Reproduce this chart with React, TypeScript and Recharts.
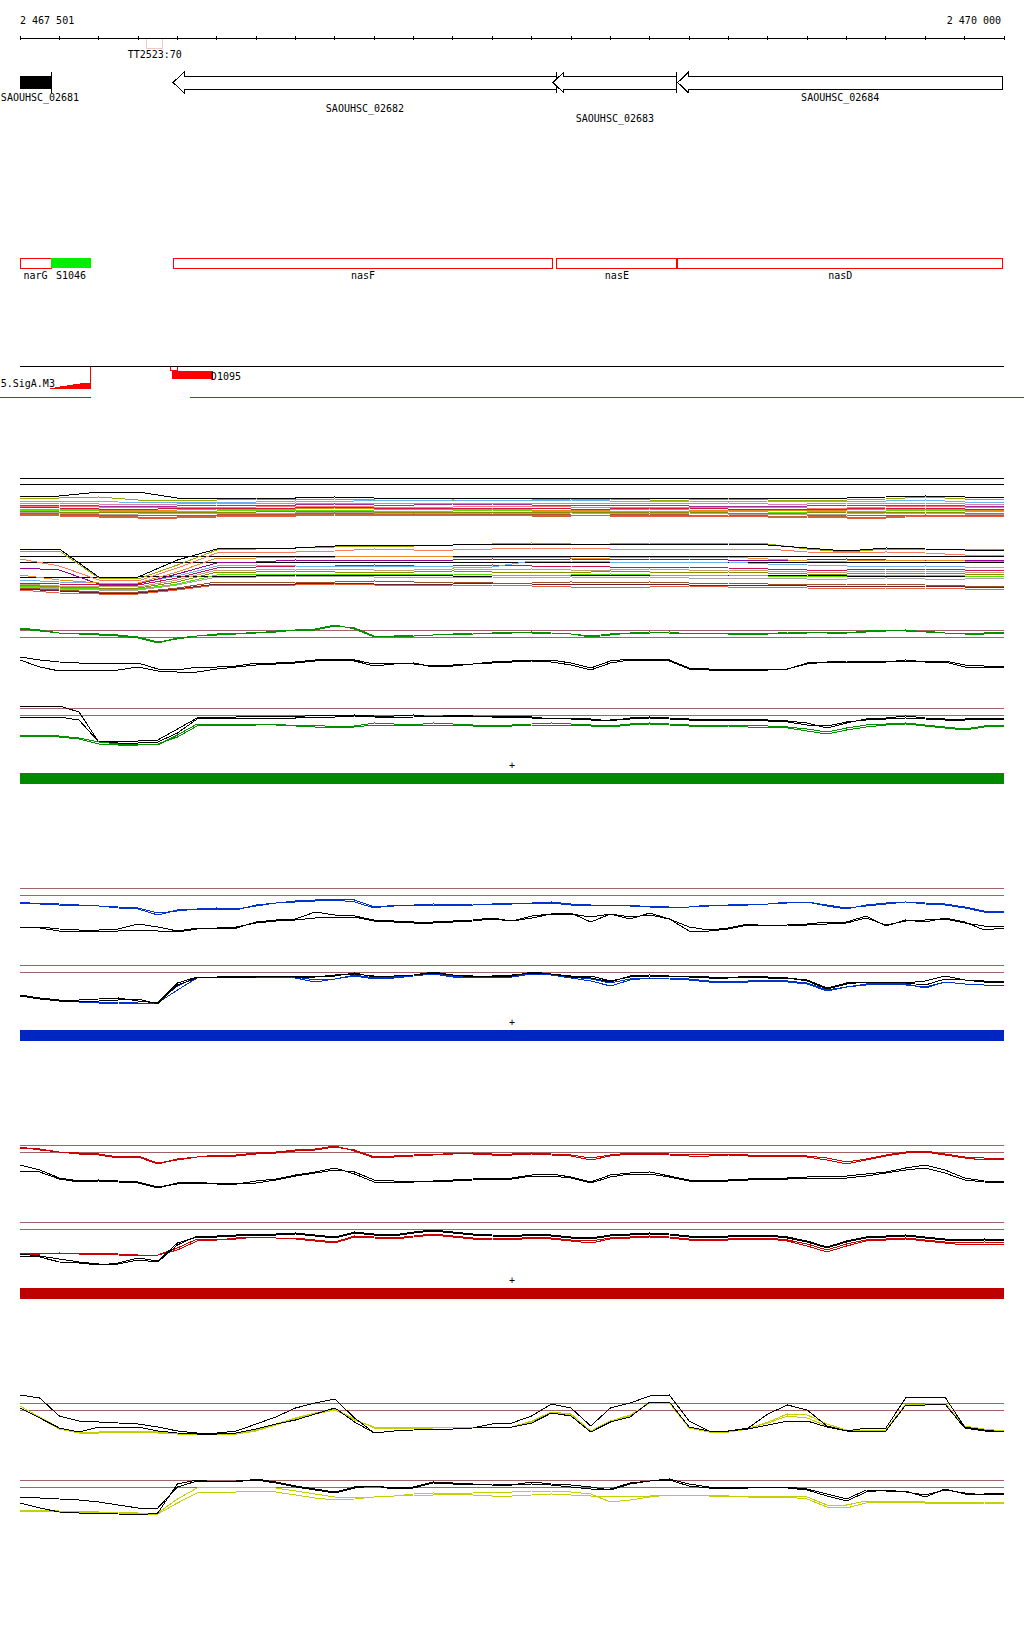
import React from "react"
import {
  LineChart,
  Line,
  XAxis,
  YAxis,
  ReferenceLine,
  ReferenceArea
} from "recharts"

// genome window: 2 467 501 .. 2 470 000 (offsets in bp from VIEW_START)
const VIEW_START = 2467500
const VIEW_SPAN = 2500

const POS_FINE = [
  0, 50, 100, 150, 200, 250, 300, 350, 400, 450, 500, 550, 600, 650, 700, 750, 800,
  850, 900, 950, 1000, 1050, 1100, 1150, 1200, 1250, 1300, 1350, 1400, 1450, 1500,
  1550, 1600, 1650, 1700, 1750, 1800, 1850, 1900, 1950, 2000, 2050, 2100, 2150,
  2200, 2250, 2300, 2350, 2400, 2450, 2500
]
const POS_COARSE = [
  0, 100, 200, 300, 400, 500, 600, 700, 800, 900, 1000, 1100, 1200, 1300, 1400,
  1500, 1600, 1700, 1800, 1900, 2000, 2100, 2200, 2300, 2400, 2500
]
const RULER_TICKS = POS_COARSE

// annotation features (bp offsets)
const GENES = [
  { name: "SAOUHSC_02681", start: 0, end: 79, partial: true },
  { name: "SAOUHSC_02682", start: 389, end: 1364, partial: false },
  { name: "SAOUHSC_02683", start: 1354, end: 1669, partial: false },
  { name: "SAOUHSC_02684", start: 1671, end: 2497, partial: false }
]
const GENE_LABEL_ROW: Record<string, number> = {
  SAOUHSC_02681: 0,
  SAOUHSC_02682: 1,
  SAOUHSC_02683: 2,
  SAOUHSC_02684: 0
}
const TERMINATORS = [{ name: "TT2523:70", start: 322, end: 363 }]
const OPERON_GENES = [
  { name: "narG", start: 0, end: 79, srna: false },
  { name: "S1046", start: 79, end: 180, srna: true },
  { name: "nasF", start: 389, end: 1354, srna: false },
  { name: "nasE", start: 1364, end: 1669, srna: false },
  { name: "nasD", start: 1671, end: 2497, srna: false }
]
const PROMOTER = { name: "5.SigA.M3", start: 76, end: 180 }
const PROMOTER_PROFILE = [
  { from: 76, to: 89, score: 1 },
  { from: 89, to: 102, score: 2 },
  { from: 102, to: 119, score: 3 },
  { from: 119, to: 135, score: 4 },
  { from: 135, to: 152, score: 5 },
  { from: 152, to: 180, score: 6 }
]
const SITE_MARK = { start: 382, end: 399 }
const SITE = { name: "D1095", start: 387, end: 490 }
const TRANSCRIPTS = [
  { from: -51, to: 180 },
  { from: 432, to: 2551 }
]

// ---- condition bundles (coarse grid) ----
const B1_BLACK = [-18,-18,-14,-14,-20,-20,-20,-20,-19,-20,-20,-20,-20,-20,-20,-20,-20,-20,-20,-20,-20,-20,-19,-18,-19,-20]
const B1_OLIVE = [-20,-20,-19,-22,-22,-22,-21,-22,-21,-22,-22,-22,-22,-22,-21,-21,-22,-22,-21,-22,-22,-22,-21,-19,-21,-22]
const B1_LIGHTBLUE = [-23,-23,-23,-25,-24,-24,-24,-23,-24,-22,-23,-22,-23,-22,-22,-23,-23,-23,-24,-23,-23,-23,-23,-22,-24,-24]
const B1_PINK = [-25,-25,-26,-27,-26,-25,-26,-25,-26,-25,-25,-26,-25,-25,-26,-25,-25,-26,-25,-26,-26,-25,-25,-25,-26,-26]
const B1_PURPLE = [-27,-27,-28,-29,-28,-27,-27,-27,-26,-27,-27,-26,-26,-27,-28,-27,-27,-28,-28,-28,-28,-27,-27,-27,-28,-28]
const B1_SALMON = [-28,-28,-29,-30,-29,-29,-29,-28,-28,-29,-29,-29,-28,-28,-29,-29,-29,-29,-29,-29,-30,-30,-29,-28,-29,-30]
const B1_CRIMSON = [-29,-30,-31,-32,-30,-30,-30,-30,-29,-30,-30,-30,-30,-30,-31,-31,-30,-30,-31,-31,-31,-31,-30,-30,-31,-31]
const B1_ORANGE = [-31,-31,-32,-33,-32,-31,-31,-31,-30,-31,-31,-32,-31,-32,-32,-32,-31,-32,-32,-32,-32,-32,-31,-31,-32,-32]
const B1_GREEN = [-32,-32,-33,-34,-33,-33,-32,-32,-32,-33,-33,-33,-32,-33,-33,-33,-33,-33,-33,-34,-34,-33,-33,-32,-33,-33]
const B1_DARKOLIVE = [-33,-34,-34,-35,-34,-34,-34,-33,-33,-34,-34,-34,-34,-34,-34,-35,-34,-34,-35,-35,-35,-34,-34,-34,-35,-35]
const B1_GREY = [-34,-35,-36,-36,-35,-35,-35,-35,-34,-35,-35,-35,-35,-36,-35,-36,-35,-35,-36,-36,-36,-36,-35,-35,-36,-36]
const B1_BROWN = [-35,-36,-37,-38,-37,-37,-36,-36,-35,-36,-36,-36,-36,-36,-37,-37,-36,-37,-37,-38,-38,-37,-37,-37,-37,-38]
const B1_SIENNA = [-36,-37,-38,-39,-39,-38,-37,-37,-36,-37,-36,-37,-37,-38,-38,-37,-37,-37,-38,-38,-38,-39,-39,-37,-38,-38]
const B1_TOMATO = [-37,-38,-39,-40,-40,-39,-38,-38,-37,-37,-37,-37,-37,-37,-37,-38,-38,-38,-38,-39,-39,-40,-40,-38,-38,-39]

const B2_BLACK = [7,7,-21,-21,-4,7,8,8,10,11,11,11,12,12,11,12,12,12,12,11,8,5,8,7,6,6]
const B2_BLACK_LOW = [-21,-21,-21,-21,-20,-20,-20,-19,-19,-19,-19,-20,-20,-19,-19,-19,-19,-19,-19,-19,-19,-20,-20,-20,-20,-20]
const B2_OLIVE = [5,5,-22,-23,-9,6,7,8,9,10,10,11,12,13,12,12,13,13,13,12,7,4,7,7,6,7]
const B2_SALMON = [-3,-10,-24,-25,-12,3,4,4,5,7,6,6,7,8,8,7,7,7,7,7,4,3,4,3,1,0]
const B2_ORANGE = [-19,-24,-27,-27,-16,-2,-2,-1,-1,0,0,-1,-1,-1,-2,-2,-1,-1,-1,-3,-5,-5,-4,-4,-5,-6]
const B2_PURPLE = [-12,-14,-28,-28,-18,-7,-6,-4,-5,-4,-4,-4,-3,-4,-3,-4,-3,-3,-4,-4,-4,-3,-4,-5,-4,-4]
const B2_LIGHTBLUE = [-24,-26,-27,-27,-20,-10,-9,-10,-11,-10,-10,-11,-11,-5,-5,-6,-6,-6,-6,-8,-9,-10,-11,-10,-11,-11]
const B2_CRIMSON = [-27,-28,-29,-29,-22,-12,-11,-10,-10,-9,-10,-10,-9,-10,-10,-11,-11,-11,-12,-13,-14,-14,-13,-13,-14,-14]
const B2_TAN = [-28,-30,-30,-31,-24,-14,-14,-13,-13,-14,-14,-13,-14,-13,-14,-14,-13,-14,-14,-15,-16,-16,-15,-15,-16,-16]
const B2_DARKOLIVE = [-29,-31,-32,-32,-26,-16,-16,-15,-16,-16,-16,-15,-16,-16,-17,-15,-16,-17,-16,-17,-18,-18,-17,-17,-18,-18]
const B2_GREEN = [-30,-32,-33,-33,-28,-19,-18,-18,-19,-18,-18,-18,-19,-19,-19,-18,-19,-19,-19,-20,-20,-20,-19,-19,-20,-20]
const B2_GREY = [-31,-33,-34,-34,-29,-21,-21,-20,-20,-21,-21,-21,-21,-22,-21,-22,-21,-22,-22,-22,-23,-23,-22,-23,-23,-22]
const B2_BROWN = [-32,-34,-36,-36,-32,-26,-27,-26,-26,-25,-26,-26,-27,-27,-26,-27,-26,-27,-27,-28,-29,-28,-28,-29,-30,-30]
const B2_MAROON = [-33,-35,-37,-37,-33,-28,-28,-28,-27,-28,-28,-28,-27,-28,-29,-28,-28,-29,-29,-29,-30,-30,-30,-30,-31,-31]
const B2_TOMATO = [-34,-37,-38,-38,-34,-29,-30,-29,-28,-29,-30,-29,-29,-30,-31,-31,-31,-30,-31,-31,-32,-33,-32,-32,-33,-33]

// ---- green condition ----
const GT_GREEN_A = [2,0,-3,-3,-4,-5,-7,-12,-9,-6,-5,-4,-2,-2,0,0,4,2,-6,-6,-6,-5,-4,-4,-3,-3,-2,-3,-4,-6,-4,-3,-2,-3,-3,-3,-4,-4,-3,-3,-3,-2,-2,-2,-1,0,-2,-3,-3,-3,-2]
const GT_GREEN_B = [1,-1,-3,-4,-5,-6,-8,-13,-8,-6,-4,-3,-3,-1,0,1,5,1,-7,-6,-5,-5,-4,-3,-3,-2,-3,-3,-4,-7,-5,-3,-3,-2,-4,-3,-3,-4,-4,-2,-2,-3,-3,-1,0,-1,-1,-3,-4,-4,-3]
const GT_BLACK_A = [-27,-30,-32,-33,-33,-33,-33,-39,-40,-37,-37,-36,-33,-33,-32,-30,-29,-30,-34,-33,-34,-36,-35,-34,-32,-31,-30,-30,-33,-38,-31,-29,-29,-30,-38,-39,-39,-39,-39,-39,-33,-32,-31,-31,-31,-31,-31,-31,-35,-36,-36]
const GT_BLACK_B = [-30,-37,-41,-40,-40,-40,-37,-41,-42,-42,-39,-37,-35,-34,-33,-31,-30,-31,-36,-34,-33,-37,-36,-34,-33,-32,-31,-32,-35,-40,-33,-30,-30,-31,-39,-40,-40,-40,-40,-39,-34,-32,-32,-32,-32,-30,-32,-32,-37,-38,-37]
const GL_BLACK_A = [2,2,2,-4,-34,-35,-35,-34,-25,-11,-10,-10,-10,-10,-10,-9,-9,-8,-9,-10,-9,-8,-8,-8,-9,-9,-10,-10,-11,-12,-12,-11,-10,-11,-12,-12,-12,-12,-13,-14,-17,-18,-14,-12,-11,-10,-11,-12,-12,-11,-11]
const GL_BLACK_B = [-9,-9,-9,-12,-34,-33,-33,-32,-21,-10,-9,-9,-8,-8,-9,-7,-8,-7,-8,-8,-7,-9,-7,-8,-8,-8,-9,-11,-10,-11,-13,-10,-9,-10,-11,-12,-11,-11,-12,-13,-15,-20,-15,-11,-10,-8,-10,-11,-11,-10,-10]
const GL_GREEN_A = [-27,-27,-28,-30,-34,-36,-36,-37,-27,-16,-16,-16,-16,-17,-17,-17,-19,-18,-15,-16,-17,-15,-16,-17,-17,-17,-16,-15,-16,-17,-18,-16,-15,-16,-17,-17,-17,-17,-18,-19,-21,-24,-20,-17,-16,-15,-17,-19,-21,-18,-17]
const GL_GREEN_B = [-28,-28,-29,-31,-36,-37,-37,-36,-29,-18,-17,-17,-17,-16,-18,-19,-20,-19,-17,-17,-18,-17,-17,-18,-18,-18,-17,-17,-17,-18,-19,-17,-16,-17,-18,-18,-18,-19,-19,-20,-23,-26,-22,-19,-17,-16,-18,-20,-22,-19,-18]

// ---- blue condition ----
const BT_BLUE_A = [-15,-15,-16,-17,-18,-19,-20,-25,-23,-21,-21,-22,-17,-15,-13,-12,-11,-12,-19,-18,-17,-17,-17,-16,-16,-16,-15,-14,-16,-17,-17,-18,-18,-19,-19,-18,-17,-17,-16,-15,-14,-17,-20,-18,-16,-14,-15,-16,-19,-23,-23]
const BT_BLUE_B = [-14,-16,-17,-17,-18,-20,-21,-27,-22,-21,-20,-21,-18,-15,-14,-13,-12,-14,-20,-17,-17,-16,-17,-17,-16,-15,-15,-15,-17,-18,-17,-17,-19,-20,-19,-17,-17,-16,-16,-14,-14,-18,-21,-17,-15,-14,-16,-17,-20,-24,-24]
const BT_BLACK_A = [-39,-39,-41,-42,-42,-41,-36,-39,-43,-40,-40,-40,-34,-32,-31,-24,-27,-28,-32,-33,-34,-34,-33,-32,-30,-33,-28,-26,-25,-34,-26,-31,-25,-31,-39,-42,-40,-36,-38,-37,-36,-34,-34,-28,-38,-32,-34,-30,-34,-42,-40]
const BT_BLACK_B = [-39,-40,-43,-43,-43,-43,-42,-43,-44,-41,-40,-39,-35,-33,-32,-30,-29,-29,-33,-34,-35,-35,-34,-33,-31,-33,-30,-26,-26,-29,-26,-29,-27,-31,-43,-43,-41,-37,-38,-37,-37,-36,-35,-30,-37,-33,-32,-31,-35,-38,-38]
const BL_BLUE_A = [-30,-34,-35,-36,-38,-38,-39,-37,-21,-12,-12,-12,-12,-12,-13,-17,-14,-10,-13,-12,-10,-8,-11,-12,-12,-12,-8,-10,-13,-16,-21,-15,-13,-13,-14,-16,-17,-16,-15,-16,-18,-25,-22,-19,-18,-19,-23,-17,-19,-20,-20]
const BL_BLUE_B = [-30,-33,-36,-37,-37,-37,-38,-38,-25,-13,-12,-12,-11,-11,-12,-15,-14,-11,-14,-13,-11,-9,-12,-12,-12,-12,-9,-10,-12,-14,-18,-14,-13,-14,-15,-17,-18,-17,-16,-17,-19,-26,-22,-20,-19,-20,-22,-17,-19,-20,-20]
const BL_BLACK_A = [-30,-33,-35,-35,-34,-33,-36,-38,-18,-12,-12,-11,-11,-11,-11,-11,-11,-8,-12,-11,-10,-7,-10,-11,-11,-11,-7,-9,-12,-13,-17,-11,-10,-11,-12,-13,-13,-12,-13,-13,-15,-23,-18,-17,-17,-18,-20,-14,-15,-17,-17]
const BL_BLACK_B = [-31,-34,-36,-36,-36,-35,-34,-39,-20,-13,-12,-12,-12,-11,-12,-12,-10,-9,-11,-11,-10,-8,-10,-12,-11,-10,-8,-9,-11,-11,-16,-12,-11,-11,-11,-12,-13,-11,-12,-13,-16,-24,-19,-17,-17,-18,-16,-11,-15,-16,-16]

// ---- red condition ----
const RT_RED_A = [-2,-5,-7,-8,-9,-12,-11,-18,-15,-12,-11,-11,-9,-8,-6,-5,-2,-5,-12,-11,-10,-9,-9,-8,-9,-9,-8,-9,-10,-13,-10,-8,-8,-9,-10,-9,-9,-10,-10,-10,-11,-13,-17,-14,-10,-7,-6,-9,-12,-13,-13]
const RT_RED_B = [-3,-4,-7,-9,-10,-13,-12,-19,-14,-12,-10,-10,-8,-7,-5,-4,-1,-6,-13,-12,-11,-10,-8,-9,-10,-10,-9,-10,-11,-15,-11,-9,-9,-10,-11,-11,-10,-11,-11,-11,-12,-15,-19,-15,-11,-8,-7,-10,-13,-15,-14]
const RT_BLACK_A = [-20,-25,-33,-36,-35,-36,-37,-42,-39,-38,-38,-39,-38,-35,-31,-28,-25,-27,-35,-36,-36,-36,-35,-34,-33,-33,-30,-29,-32,-37,-30,-28,-27,-31,-35,-35,-35,-34,-33,-33,-32,-31,-31,-29,-27,-23,-20,-25,-33,-36,-37]
const RT_BLACK_B = [-26,-27,-34,-37,-36,-37,-38,-43,-38,-37,-39,-39,-36,-34,-30,-27,-23,-29,-37,-37,-37,-36,-36,-35,-34,-34,-31,-31,-33,-38,-32,-29,-29,-32,-36,-36,-36,-35,-34,-34,-33,-33,-33,-31,-28,-25,-23,-28,-35,-37,-38]
const RL_RED_A = [-31,-31,-31,-31,-31,-32,-33,-33,-28,-19,-18,-17,-15,-16,-16,-18,-20,-14,-15,-16,-14,-12,-14,-16,-16,-17,-15,-16,-18,-19,-16,-15,-14,-15,-17,-18,-17,-16,-16,-18,-22,-28,-22,-18,-17,-16,-18,-20,-21,-20,-21]
const RL_RED_B = [-32,-32,-31,-32,-32,-33,-34,-33,-26,-17,-18,-16,-15,-16,-17,-19,-21,-15,-16,-17,-15,-13,-15,-17,-17,-18,-16,-17,-19,-21,-17,-16,-15,-16,-18,-19,-18,-17,-17,-19,-24,-30,-24,-19,-18,-17,-19,-21,-23,-22,-22]
const RL_BLACK_A = [-34,-35,-40,-41,-43,-41,-36,-39,-21,-15,-15,-14,-13,-13,-12,-14,-16,-11,-13,-14,-11,-9,-11,-13,-14,-15,-13,-14,-16,-17,-14,-13,-12,-13,-15,-16,-15,-14,-14,-16,-20,-26,-20,-16,-15,-14,-16,-18,-19,-18,-19]
const RL_BLACK_B = [-32,-34,-37,-40,-42,-42,-38,-40,-23,-14,-14,-13,-12,-12,-11,-13,-15,-10,-12,-13,-10,-8,-10,-12,-13,-14,-12,-13,-15,-16,-13,-12,-11,-12,-14,-15,-14,-13,-13,-15,-19,-25,-19,-15,-14,-13,-15,-17,-18,-17,-18]

// ---- yellow condition ----
const YT_BLACK_A = [8,5,-13,-18,-19,-20,-21,-24,-28,-30,-30,-28,-21,-14,-5,0,4,-15,-30,-28,-27,-26,-26,-25,-21,-20,-13,-1,-5,-23,-5,0,7,8,-18,-28,-28,-25,-11,-2,-7,-23,-28,-25,-25,5,6,6,-24,-27,-29]
const YT_BLACK_B = [-5,-15,-25,-29,-24,-24,-24,-28,-30,-31,-31,-30,-26,-21,-17,-11,-5,-19,-30,-28,-27,-26,-26,-25,-24,-24,-20,-10,-13,-29,-19,-14,1,1,-24,-28,-28,-26,-22,-18,-18,-24,-28,-29,-28,-2,-2,-1,-25,-28,-29]
const YT_YELLOW_A = [-3,-14,-25,-29,-29,-28,-28,-29,-30,-30,-31,-31,-28,-22,-16,-11,-7,-17,-24,-24,-24,-24,-24,-24,-24,-24,-19,-10,-12,-29,-19,-13,1,1,-24,-28,-28,-25,-20,-13,-15,-23,-27,-27,-27,-1,-1,0,-23,-26,-28]
const YT_YELLOW_B = [-5,-15,-26,-30,-30,-29,-29,-30,-31,-31,-31,-30,-27,-21,-15,-10,-6,-16,-25,-25,-25,-25,-24,-24,-24,-24,-18,-9,-11,-28,-18,-12,0,0,-25,-29,-29,-26,-19,-11,-12,-21,-27,-28,-28,-2,-2,-1,-24,-27,-28]
const YL_BLACK_A = [-17,-18,-19,-20,-22,-25,-28,-28,-7,-1,-1,-2,1,-2,-6,-9,-12,-7,-6,-8,-7,-2,-3,-4,-5,-5,-2,-4,-5,-7,-10,-4,-1,1,-4,-7,-8,-8,-7,-7,-9,-14,-19,-10,-11,-11,-17,-9,-14,-14,-13]
const YL_BLACK_B = [-23,-28,-32,-33,-33,-34,-35,-33,-4,0,-2,-1,0,-3,-7,-10,-13,-8,-6,-9,-8,-3,-4,-4,-4,-5,-4,-5,-7,-9,-9,-3,-1,0,-6,-8,-8,-7,-7,-8,-10,-16,-21,-12,-10,-12,-15,-10,-13,-15,-14]
const YL_YELLOW_A = [-30,-30,-31,-31,-32,-32,-33,-33,-19,-8,-7,-7,-7,-8,-11,-14,-17,-18,-17,-16,-15,-15,-14,-13,-12,-12,-11,-11,-12,-14,-22,-20,-17,-15,-15,-15,-16,-16,-16,-16,-17,-25,-25,-21,-21,-21,-22,-22,-22,-22,-23]
const YL_YELLOW_B = [-31,-31,-32,-32,-33,-33,-34,-34,-23,-13,-12,-12,-11,-12,-15,-18,-20,-19,-17,-16,-14,-13,-14,-15,-16,-16,-15,-14,-15,-16,-16,-16,-16,-15,-15,-16,-16,-17,-17,-17,-19,-27,-28,-23,-22,-22,-23,-23,-23,-23,-24]

const FONT = '"DejaVu Sans Mono", monospace'
const C = {
  black: "#000000",
  brown: "#a06464",
  green: "#009000",
  greenBar: "#008a00",
  blue: "#0033cc",
  blueBar: "#0026c2",
  red: "#cc0000",
  redBar: "#bf0000",
  yellow: "#c4d000",
  feature: "#ff0000",
  srna: "#00ee00",
  tt: "#f4c8c0"
}

type Series = { key: string; values: number[]; color: string }

const buildRows = (pos: number[], series: Series[]) =>
  pos.map((bp, i) => {
    const row: Record<string, number> = { bp }
    series.forEach(s => { row[s.key] = s.values[i] })
    return row
  })

const fmtPos = (n: number) => String(n).replace(/\B(?=(\d{3})+(?!\d))/g, " ")

interface PanelProps {
  top: number
  height: number
  refY: number
  pos: number[]
  series: Series[]
  refLines: number[]
  refColor: string
}

// one horizontal strip of expression profiles, 1 unit = 1px, 0 = upper reference line
const ProfilePanel = ({ top, height, refY, pos, series, refLines, refColor }: PanelProps) => {
  const rows = buildRows(pos, series)
  return (
    <div style={{ position: "absolute", left: 0, top }}>
      <LineChart width={1024} height={height} data={rows} margin={{ top: 0, right: 20, bottom: 0, left: 20 }}>
        <XAxis type="number" dataKey="bp" domain={[0, VIEW_SPAN]} hide allowDataOverflow />
        <YAxis type="number" domain={[refY - top - height, refY - top]} hide allowDataOverflow />
        {refLines.map(y => (
          <ReferenceLine key={y} y={y} stroke={refColor} strokeWidth={1} />
        ))}
        {series.map(s => (
          <Line
            key={s.key}
            dataKey={s.key}
            type="linear"
            stroke={s.color}
            strokeWidth={1}
            dot={false}
            activeDot={false}
            isAnimationActive={false}
          />
        ))}
      </LineChart>
    </div>
  )
}

const strandShape = (color: string) => (p: any) => {
  const { x, y, width, height } = p
  return (
    <g>
      <rect x={x} y={y} width={width} height={height} fill={color} />
      <text x={x + width / 2} y={y - 4} textAnchor="middle" fontSize={10} fontFamily={FONT} fill="#000">+</text>
    </g>
  )
}

const StrandBar = ({ top, color }: { top: number; color: string }) => (
  <div style={{ position: "absolute", left: 0, top }}>
    <LineChart width={1024} height={31} data={[{ bp: 0 }, { bp: VIEW_SPAN }]} margin={{ top: 18, right: 20, bottom: 2, left: 20 }}>
      <XAxis type="number" dataKey="bp" domain={[0, VIEW_SPAN]} hide allowDataOverflow />
      <YAxis type="number" domain={[0, 1]} hide allowDataOverflow />
      <ReferenceArea x1={0} x2={VIEW_SPAN} y1={0} y2={1} shape={strandShape(color)} />
    </LineChart>
  </div>
)

const renderRulerTick = (props: any) => {
  const { x, y, payload } = props
  const v = payload.value
  return (
    <g>
      <line x1={x} x2={x} y1={y - 2} y2={y + 2} stroke="#000" />
      {v === 0 && (
        <text x={x} y={y - 14} textAnchor="start" fontSize={10} fontFamily={FONT} fill="#000">
          {fmtPos(VIEW_START + 1)}
        </text>
      )}
      {v === VIEW_SPAN && (
        <text x={x - 3} y={y - 14} textAnchor="end" fontSize={10} fontFamily={FONT} fill="#000">
          {fmtPos(VIEW_START + VIEW_SPAN)}
        </text>
      )}
    </g>
  )
}

const txt = { fontSize: 10, fontFamily: FONT, fill: "#000" }

const geneShape = (name: string, partial: boolean, hasBar: boolean) => (p: any) => {
  const { x, y, width, height } = p
  const right = x + width
  const bt = y + 4
  const bb = y + height - 4
  const mid = (bt + bb) / 2
  const labelY = y + 29 + GENE_LABEL_ROW[name] * 10.5
  // keep labels of genes cut by the window edge readable
  const labelX = Math.max(x + width / 2, 40)
  const pts = `${x},${mid} ${x + 11},${y} ${x + 11},${bt} ${right},${bt} ${right},${bb} ${x + 11},${bb} ${x + 11},${y + height}`
  return (
    <g>
      {partial ? (
        <rect x={x} y={bt} width={width} height={bb - bt} fill="#000" />
      ) : (
        <polygon points={pts} fill="#fff" stroke="#000" strokeWidth={1} />
      )}
      {hasBar && <line x1={right} x2={right} y1={y} y2={y + height} stroke="#000" strokeWidth={1} />}
      <text x={labelX} y={labelY} textAnchor="middle" {...txt}>{name}</text>
    </g>
  )
}

const boxShape = (name: string, fill: string, stroke: string) => (p: any) => {
  const { x, y, width, height } = p
  return (
    <g>
      <rect x={x} y={y} width={width} height={height} fill={fill} stroke={stroke} strokeWidth={1} />
      <text x={x + width / 2} y={y + height + 11} textAnchor="middle" {...txt}>{name}</text>
    </g>
  )
}

const terminatorShape = (name: string) => (p: any) => {
  const { x, y, width, height } = p
  return (
    <g>
      <rect x={x} y={y} width={width} height={height} fill="none" stroke={C.tt} strokeWidth={1} />
      <text x={x + width / 2} y={y + height + 10} textAnchor="middle" {...txt}>{name}</text>
    </g>
  )
}

const promoterShape = (p: any) => {
  const { x, y, width, height } = p
  return (
    <g>
      <line x1={x + width} x2={x + width} y1={y} y2={y + height} stroke={C.feature} strokeWidth={1} />
      <text x={x + 5} y={y + height - 2} textAnchor="end" {...txt}>{PROMOTER.name}</text>
    </g>
  )
}

const siteShape = (p: any) => {
  const { x, y, width, height } = p
  return (
    <g>
      <rect x={x} y={y} width={width} height={height} fill={C.feature} />
      <text x={x + width - 2} y={y + height + 1} textAnchor="start" {...txt}>{SITE.name}</text>
    </g>
  )
}

// rows (px below the ruler line)
const ROW = {
  tt: [0, 10],
  gene: [34, 55],
  operon: [220, 230],
  regLine: 328,
  promoter: [328, 351],
  siteMark: [328, 332],
  site: [333, 341],
  transcript: 359
}

const Annotation = () => (
  <div style={{ position: "absolute", left: 0, top: 0 }}>
    <LineChart width={1024} height={405} data={[{ bp: 0 }, { bp: VIEW_SPAN }]} margin={{ top: 8, right: 20, bottom: 0, left: 20 }}>
      <XAxis
        type="number"
        dataKey="bp"
        domain={[0, VIEW_SPAN]}
        orientation="top"
        height={30}
        ticks={RULER_TICKS}
        interval={0}
        tickSize={0}
        tickMargin={0}
        tickLine={false}
        axisLine={{ stroke: "#000" }}
        tick={renderRulerTick}
        allowDataOverflow
      />
      <YAxis type="number" domain={[0, 367]} reversed hide allowDataOverflow />

      {TERMINATORS.map(t => (
        <ReferenceArea key={t.name} x1={t.start} x2={t.end} y1={ROW.tt[0]} y2={ROW.tt[1]} shape={terminatorShape(t.name)} />
      ))}

      {GENES.map(g => (
        <ReferenceArea
          key={g.name}
          x1={g.start}
          x2={g.end}
          y1={ROW.gene[0]}
          y2={ROW.gene[1]}
          shape={geneShape(g.name, g.partial, g.end < VIEW_SPAN - 5)}
        />
      ))}

      {OPERON_GENES.map(g => (
        <ReferenceArea
          key={g.name}
          x1={g.start}
          x2={g.end}
          y1={ROW.operon[0]}
          y2={ROW.operon[1]}
          shape={boxShape(g.name, g.srna ? C.srna : "#fff", g.srna ? "none" : C.feature)}
        />
      ))}

      <ReferenceLine y={ROW.regLine} stroke="#000" strokeWidth={1} />
      {PROMOTER_PROFILE.map(s => (
        <ReferenceArea
          key={s.from}
          x1={s.from}
          x2={s.to}
          y1={ROW.promoter[1] - s.score}
          y2={ROW.promoter[1]}
          fill={C.feature}
          fillOpacity={1}
          stroke="none"
        />
      ))}
      <ReferenceArea x1={PROMOTER.start} x2={PROMOTER.end} y1={ROW.promoter[0]} y2={ROW.promoter[1]} shape={promoterShape} />
      <ReferenceArea
        x1={SITE_MARK.start}
        x2={SITE_MARK.end}
        y1={ROW.siteMark[0]}
        y2={ROW.siteMark[1]}
        fill="#fff"
        fillOpacity={1}
        stroke={C.feature}
      />
      <ReferenceArea x1={SITE.start} x2={SITE.end} y1={ROW.site[0]} y2={ROW.site[1]} shape={siteShape} />
      {TRANSCRIPTS.map(t => (
        <ReferenceLine
          key={t.from}
          segment={[{ x: t.from, y: ROW.transcript }, { x: t.to, y: ROW.transcript }]}
          stroke={C.feature}
          strokeWidth={1}
          ifOverflow="visible"
        />
      ))}
    </LineChart>
  </div>
)

const BUNDLE1: Series[] = [
  { key: "b1_black", values: B1_BLACK, color: C.black },
  { key: "b1_olive", values: B1_OLIVE, color: "#9aac00" },
  { key: "b1_lightblue", values: B1_LIGHTBLUE, color: "#66b4f4" },
  { key: "b1_pink", values: B1_PINK, color: "#e07ab0" },
  { key: "b1_purple", values: B1_PURPLE, color: "#a0309a" },
  { key: "b1_salmon", values: B1_SALMON, color: "#ff7878" },
  { key: "b1_crimson", values: B1_CRIMSON, color: "#d01848" },
  { key: "b1_orange", values: B1_ORANGE, color: "#e08a20" },
  { key: "b1_green", values: B1_GREEN, color: "#5fe000" },
  { key: "b1_darkolive", values: B1_DARKOLIVE, color: "#8a8a00" },
  { key: "b1_grey", values: B1_GREY, color: "#b0a0a0" },
  { key: "b1_brown", values: B1_BROWN, color: "#b05a30" },
  { key: "b1_sienna", values: B1_SIENNA, color: "#c86432" },
  { key: "b1_tomato", values: B1_TOMATO, color: "#e85a3a" }
]

const BUNDLE2: Series[] = [
  { key: "b2_black_low", values: B2_BLACK_LOW, color: C.black },
  { key: "b2_tomato", values: B2_TOMATO, color: "#e8603c" },
  { key: "b2_maroon", values: B2_MAROON, color: "#6a2030" },
  { key: "b2_brown", values: B2_BROWN, color: "#a05028" },
  { key: "b2_grey", values: B2_GREY, color: "#a8a8a8" },
  { key: "b2_green", values: B2_GREEN, color: "#55dd00" },
  { key: "b2_darkolive", values: B2_DARKOLIVE, color: "#8c8c00" },
  { key: "b2_tan", values: B2_TAN, color: "#c8a070" },
  { key: "b2_crimson", values: B2_CRIMSON, color: "#cc1155" },
  { key: "b2_lightblue", values: B2_LIGHTBLUE, color: "#6cb4f0" },
  { key: "b2_purple", values: B2_PURPLE, color: "#990099" },
  { key: "b2_orange", values: B2_ORANGE, color: "#e89020" },
  { key: "b2_salmon", values: B2_SALMON, color: "#ff7a5a" },
  { key: "b2_olive", values: B2_OLIVE, color: "#9aaa00" },
  { key: "b2_black", values: B2_BLACK, color: C.black }
]

const pair = (prefix: string, a: number[], b: number[], color: string): Series[] => [
  { key: `${prefix}_a`, values: a, color },
  { key: `${prefix}_b`, values: b, color }
]

export default function App() {
  return (
    <div style={{ position: "absolute", left: 0, top: 0, width: 1024, height: 1640, background: "#fff", overflow: "hidden" }}>
      <style>{`.recharts-curve, .recharts-reference-line-line, .recharts-reference-area-rect, polygon, rect, line { shape-rendering: crispEdges; }`}</style>
      <Annotation />

      <ProfilePanel top={465} height={65} refY={478} pos={POS_COARSE} series={BUNDLE1} refLines={[0, -6]} refColor={C.black} />
      <ProfilePanel top={535} height={70} refY={556} pos={POS_COARSE} series={BUNDLE2} refLines={[0, -6]} refColor={C.black} />

      <ProfilePanel top={615} height={70} refY={630} pos={POS_FINE}
        series={[...pair("gt_k", GT_BLACK_A, GT_BLACK_B, C.black), ...pair("gt_g", GT_GREEN_A, GT_GREEN_B, C.green)]}
        refLines={[0, -7]} refColor={C.brown} />
      <ProfilePanel top={690} height={65} refY={708} pos={POS_FINE}
        series={[...pair("gl_k", GL_BLACK_A, GL_BLACK_B, C.black), ...pair("gl_g", GL_GREEN_A, GL_GREEN_B, C.green)]}
        refLines={[0, -7]} refColor={C.brown} />
      <StrandBar top={755} color={C.greenBar} />

      <ProfilePanel top={880} height={70} refY={888} pos={POS_FINE}
        series={[...pair("bt_k", BT_BLACK_A, BT_BLACK_B, C.black), ...pair("bt_b", BT_BLUE_A, BT_BLUE_B, C.blue)]}
        refLines={[0, -7]} refColor={C.brown} />
      <ProfilePanel top={950} height={65} refY={965} pos={POS_FINE}
        series={[...pair("bl_b", BL_BLUE_A, BL_BLUE_B, C.blue), ...pair("bl_k", BL_BLACK_A, BL_BLACK_B, C.black)]}
        refLines={[0, -7]} refColor={C.brown} />
      <StrandBar top={1012} color={C.blueBar} />

      <ProfilePanel top={1135} height={65} refY={1145} pos={POS_FINE}
        series={[...pair("rt_k", RT_BLACK_A, RT_BLACK_B, C.black), ...pair("rt_r", RT_RED_A, RT_RED_B, C.red)]}
        refLines={[0, -7]} refColor={C.brown} />
      <ProfilePanel top={1205} height={70} refY={1222} pos={POS_FINE}
        series={[...pair("rl_r", RL_RED_A, RL_RED_B, C.red), ...pair("rl_k", RL_BLACK_A, RL_BLACK_B, C.black)]}
        refLines={[0, -7]} refColor={C.brown} />
      <StrandBar top={1270} color={C.redBar} />

      <ProfilePanel top={1385} height={65} refY={1403} pos={POS_FINE}
        series={[...pair("yt_y", YT_YELLOW_A, YT_YELLOW_B, C.yellow), ...pair("yt_k", YT_BLACK_A, YT_BLACK_B, C.black)]}
        refLines={[0, -7]} refColor={C.brown} />
      <ProfilePanel top={1465} height={60} refY={1480} pos={POS_FINE}
        series={[...pair("yl_y", YL_YELLOW_A, YL_YELLOW_B, C.yellow), ...pair("yl_k", YL_BLACK_A, YL_BLACK_B, C.black)]}
        refLines={[0, -7]} refColor={C.brown} />
    </div>
  )
}
